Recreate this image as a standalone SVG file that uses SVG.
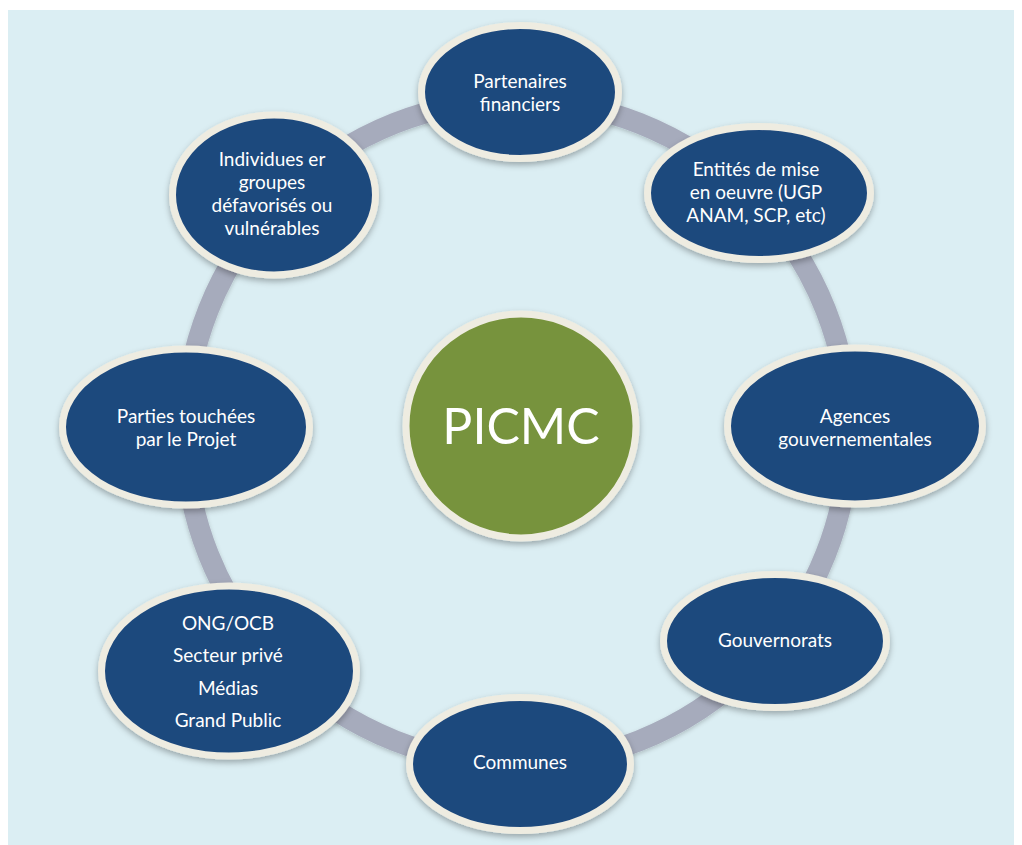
<svg xmlns="http://www.w3.org/2000/svg" width="1022" height="845" viewBox="0 0 1022 845">
<style>
.node{fill:#1F497D;stroke:#EEECE1;stroke-width:7;filter:url(#sh)}
.center{fill:#77933C;stroke:#EEECE1;stroke-width:7;filter:url(#sh)}
.t{font-family:Lato,"Open Sans","Liberation Sans",sans-serif;font-size:19px;fill:#FFFFFF;text-anchor:middle}
.big{font-family:Lato,"Open Sans","Liberation Sans",sans-serif;font-size:50px;fill:#FFFFFF;text-anchor:middle}
</style>
<defs>
<filter id="sh" x="-20%" y="-20%" width="140%" height="150%">
<feDropShadow dx="0" dy="3" stdDeviation="3" flood-color="#000" flood-opacity="0.3"/>
</filter>
<filter id="rs" x="-10%" y="-10%" width="120%" height="120%">
<feDropShadow dx="0" dy="2" stdDeviation="2" flood-color="#000" flood-opacity="0.2"/>
</filter>
</defs>
<rect x="8" y="10" width="1006" height="835" fill="#DBEEF3"/>
<g id="connectors">
<circle cx="517" cy="432" r="332" fill="none" stroke="#A6ABBC" stroke-width="21" filter="url(#rs)"/>
</g>
<g id="center">
<ellipse class="center" cx="521" cy="426" rx="115" ry="112"/>
<text class="big" x="521" y="444">PICMC</text>
</g>
<g id="partenaires">
<ellipse class="node" cx="520" cy="92" rx="98.5" ry="66.5"/>
<text class="t" x="520" y="88">Partenaires</text>
<text class="t" x="520" y="111">financiers</text>
</g>
<g id="entites">
<ellipse class="node" cx="759" cy="193" rx="111.5" ry="66.5"/>
<text class="t" x="756" y="176">Entités de mise</text>
<text class="t" x="756" y="199">en oeuvre (UGP</text>
<text class="t" x="756" y="222">ANAM, SCP, etc)</text>
</g>
<g id="agences">
<ellipse class="node" cx="855" cy="426" rx="127.5" ry="78"/>
<text class="t" x="855" y="423">Agences</text>
<text class="t" x="855" y="446">gouvernementales</text>
</g>
<g id="gouvernorats">
<ellipse class="node" cx="775" cy="641" rx="111.5" ry="66.5"/>
<text class="t" x="775" y="647">Gouvernorats</text>
</g>
<g id="communes">
<ellipse class="node" cx="520" cy="764" rx="110.5" ry="66.5"/>
<text class="t" x="520" y="769">Communes</text>
</g>
<g id="ong">
<ellipse class="node" cx="229" cy="671" rx="127.5" ry="85"/>
<text class="t" x="228" y="630">ONG/OCB</text>
<text class="t" x="228" y="662">Secteur privé</text>
<text class="t" x="228" y="695">Médias</text>
<text class="t" x="228" y="727">Grand Public</text>
</g>
<g id="parties">
<ellipse class="node" cx="186" cy="427" rx="123.5" ry="78"/>
<text class="t" x="186" y="423">Parties touchées</text>
<text class="t" x="186" y="446">par le Projet</text>
</g>
<g id="individus">
<ellipse class="node" cx="274" cy="195" rx="101.5" ry="80"/>
<text class="t" x="272" y="166">Individues er</text>
<text class="t" x="272" y="189">groupes</text>
<text class="t" x="272" y="212">défavorisés ou</text>
<text class="t" x="272" y="235">vulnérables</text>
</g>
</svg>
